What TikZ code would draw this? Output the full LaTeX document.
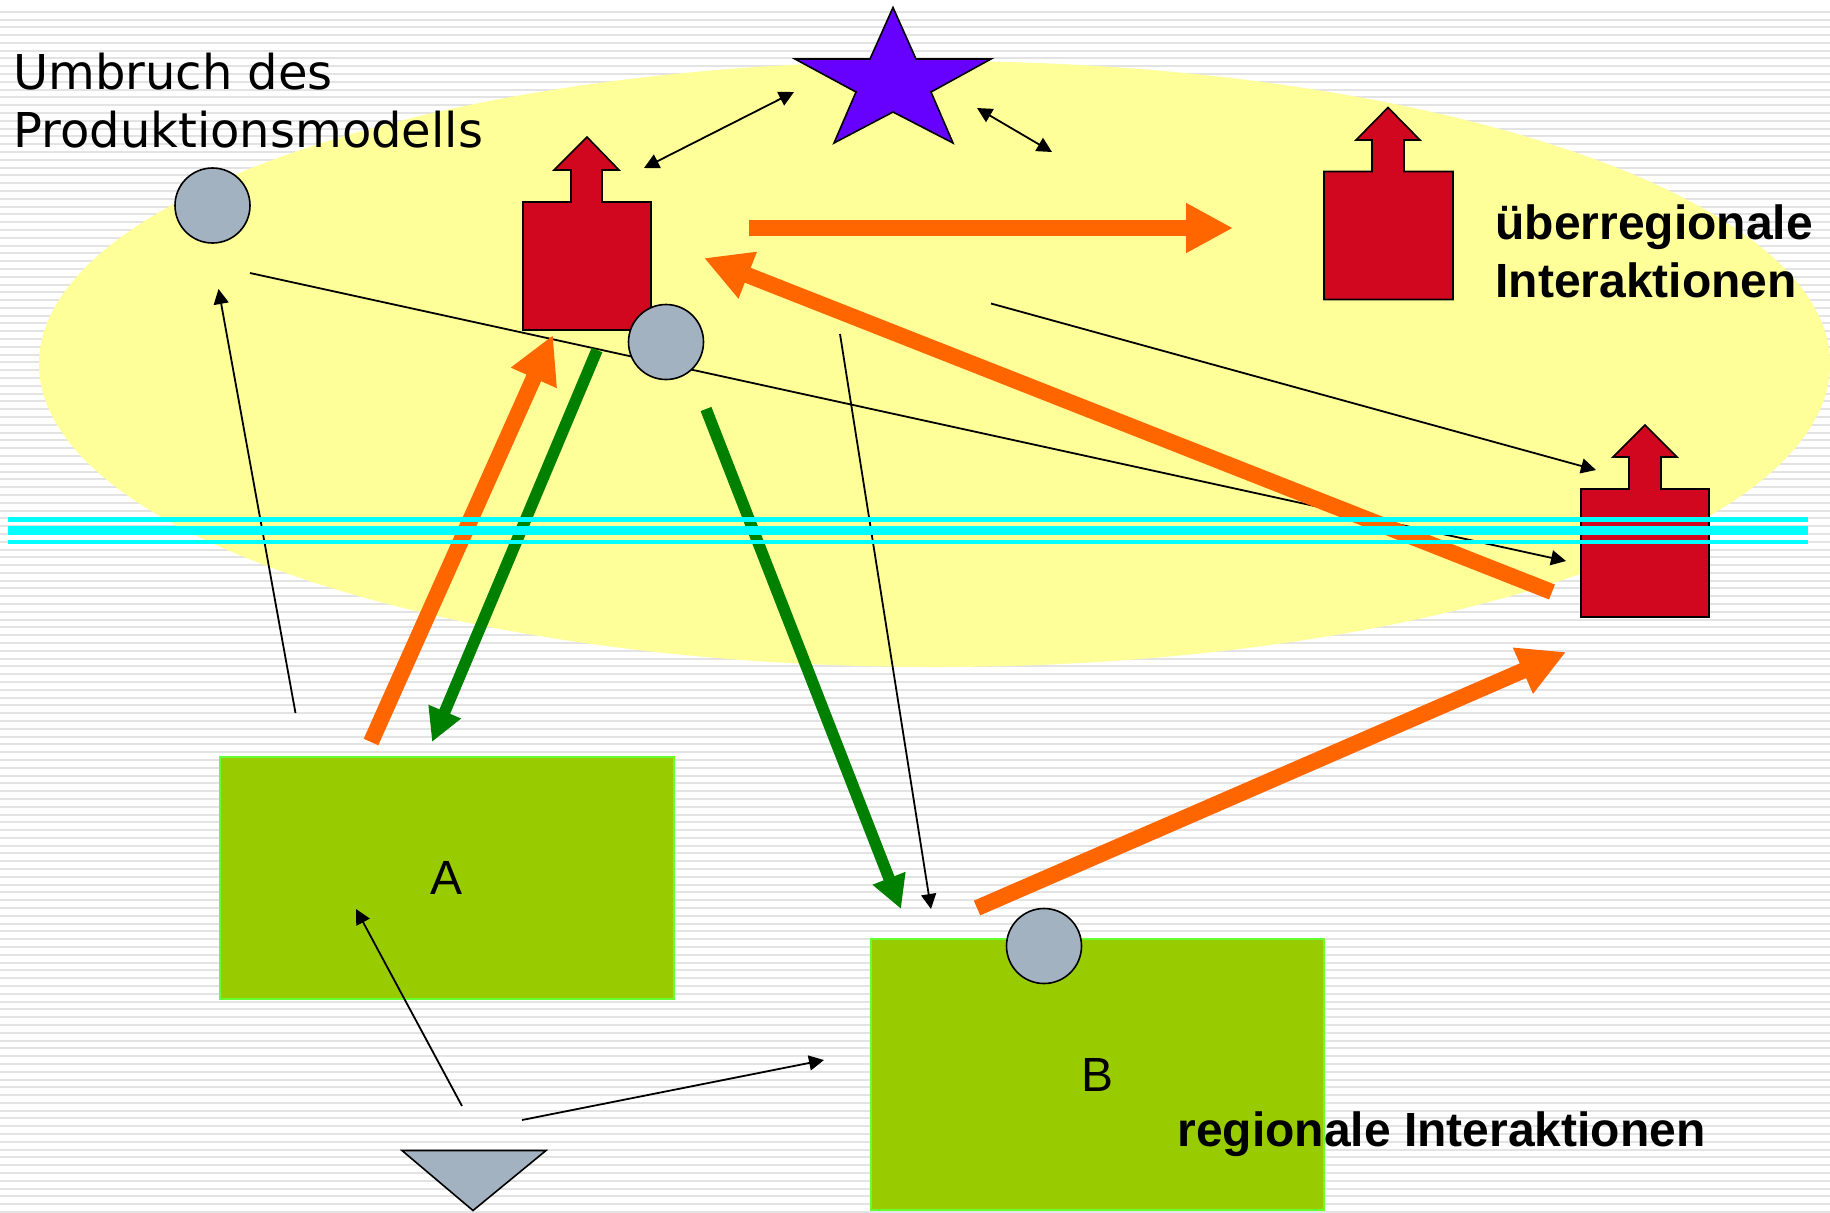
\documentclass[tikz,border=0pt]{standalone}
\usepackage{fontspec}
\setmainfont{Liberation Sans}
\newfontfamily\verd{DejaVu Sans}
\usetikzlibrary{arrows.meta}
\definecolor{stripe}{HTML}{E3E3E3}
\definecolor{paleyellow}{HTML}{FFFF99}
\definecolor{hotorange}{HTML}{FF6600}
\definecolor{darkgreen}{HTML}{008000}
\definecolor{leaf}{HTML}{99CC00}
\definecolor{leafedge}{HTML}{66FF33}
\definecolor{redfill}{HTML}{D0071E}
\definecolor{bluegrey}{HTML}{A2B2C1}
\definecolor{violetfill}{HTML}{6600FF}
\definecolor{bandcyan}{HTML}{00FFFF}
\tikzset{
  x=0.5pt,y=-0.5pt,
  outlined/.style={draw=black,line width=0.8pt,line join=miter},
  house/.style={outlined,fill=redfill},
  dot/.style={circle,outlined,fill=bluegrey,minimum size=37.5pt,inner sep=0pt,outer sep=0pt},
  field/.style={rectangle,fill=leaf,draw=leafedge,line width=0.8pt,inner sep=0pt,outer sep=0pt,font=\fontsize{24}{29}\selectfont},
  orangearrow/.style={draw=hotorange,line width=8pt,-{Triangle[length=23.5pt,width=23.5pt,fill=hotorange]}},
  greenarrow/.style={draw=darkgreen,line width=5.8pt,-{Triangle[length=16.5pt,width=16.5pt,fill=darkgreen]}},
  thinarrow/.style={draw=black,line width=0.9pt,-{Triangle[length=7.5pt,width=7.5pt,fill=black]}},
  twoway/.style={draw=black,line width=0.9pt,{Triangle[length=7.5pt,width=7.5pt,fill=black]}-{Triangle[length=7.5pt,width=7.5pt,fill=black]}},
  boldlabel/.style={font=\fontsize{24}{29}\selectfont\bfseries,inner sep=0pt,align=left},
}
\begin{document}
\begin{tikzpicture}
\useasboundingbox (0,0) rectangle (1830,1212);
\fill[white] (0,0) rectangle (1830,1212);
% striped background
\foreach \n in {0,...,154}{
  \pgfmathsetmacro{\yy}{11.7+7.794*\n}
  \fill[stripe] (0,\yy-1) rectangle (1830,\yy+1);
}
% yellow field
\fill[paleyellow] (934.5,364) ellipse [x radius=895.5,y radius=303];
% green boxes
\node[field,minimum width=227pt,minimum height=121pt] (boxA) at (447,878) {A};
\node[field,minimum width=226.5pt,minimum height=135.5pt] (boxB) at (1097.5,1074.5) {B};
% red arrow-topped houses
\draw[house] (523,202) -- (571,202) -- (571,170) -- (554,170) -- (587,137) -- (619,170) -- (602,170) -- (602,202) -- (651,202) -- (651,330) -- (523,330) -- cycle;
\draw[house] (1324,171.5) -- (1372,171.5) -- (1372,140) -- (1356,140) -- (1388,107.5) -- (1420,140) -- (1404,140) -- (1404,171.5) -- (1453,171.5) -- (1453,299.5) -- (1324,299.5) -- cycle;
\draw[house] (1581,489) -- (1629,489) -- (1629,457) -- (1613,457) -- (1645,425) -- (1677,457) -- (1661,457) -- (1661,489) -- (1709,489) -- (1709,617) -- (1581,617) -- cycle;
% star and triangle
\draw[outlined,fill=violetfill] (893,7.5) -- (916,59) -- (991,59) -- (931,92) -- (953,143) -- (893,112) -- (834,143) -- (856,92) -- (795,59) -- (870,59) -- cycle;
\draw[outlined,fill=bluegrey] (402,1150.5) -- (546,1150.5) -- (473,1210.5) -- cycle;
% free connector ends
\coordinate (la) at (295.5,713);   \coordinate (lb) at (218.5,289);
\coordinate (lc) at (250,273);   \coordinate (ld) at (1566,561);
\coordinate (le) at (991,303.5);   \coordinate (lf) at (1596,470);
\coordinate (lg) at (840,334);   \coordinate (lh) at (931,909);
\coordinate (li) at (462,1106);  \coordinate (lj) at (356,909);
\coordinate (lk) at (522,1120);  \coordinate (ll) at (824,1060);
\coordinate (ta) at (644,168);   \coordinate (tb) at (794,92);
\coordinate (tc) at (977,108);   \coordinate (td) at (1052,152);
\coordinate (oa) at (749,228);   \coordinate (ob) at (1233,228);
\coordinate (oc) at (1552,592);  \coordinate (od) at (704,258);
\coordinate (oe) at (371,742);   \coordinate (of) at (553,335);
\coordinate (og) at (977,908);   \coordinate (oh) at (1566,652);
\coordinate (ga) at (597,350);   \coordinate (gb) at (432,742);
\coordinate (gc) at (706,409);   \coordinate (gd) at (901,909);
% thin connectors
\draw[thinarrow] (la) -- (lb);
\draw[thinarrow] (lc) -- (ld);
\draw[thinarrow] (le) -- (lf);
\draw[thinarrow] (lg) -- (lh);
\draw[thinarrow] (li) -- (lj);
\draw[thinarrow] (lk) -- (ll);
\draw[twoway] (ta) -- (tb);
\draw[twoway] (tc) -- (td);
% circles
\node[dot] (c1) at (212.5,205.5) {};
\node[dot] (c2) at (666,342) {};
\node[dot] (c3) at (1044,946) {};
% thick connectors
\draw[greenarrow] (ga) -- (gb);
\draw[greenarrow] (gc) -- (gd);
\draw[orangearrow] (oa) -- (ob);
\draw[orangearrow] (oc) -- (od);
\draw[orangearrow] (oe) -- (of);
\draw[orangearrow] (og) -- (oh);
% cyan band on top
\fill[bandcyan] (8,517.3) rectangle (1808,522);
\fill[bandcyan] (8,526) rectangle (1808,535);
\fill[bandcyan] (8,540) rectangle (1808,544);
% labels
\node[anchor=base west,inner sep=0pt,align=left,font=\verd\fontsize{24}{29}\selectfont] (title) at (13,147) {Umbruch des\\Produktionsmodells};
\node[boldlabel,anchor=base west] (over) at (1495,297) {überregionale\\Interaktionen};
\node[boldlabel,anchor=base west] (reg) at (1177,1146) {regionale Interaktionen};
\end{tikzpicture}
\end{document}
